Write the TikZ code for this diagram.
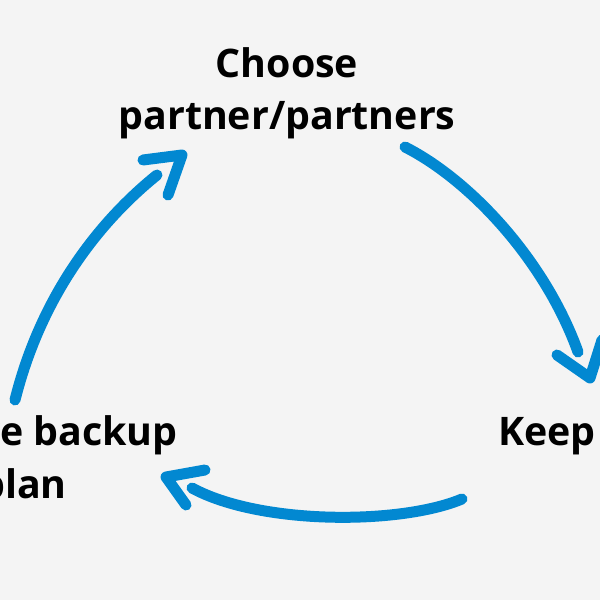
\documentclass[tikz,border=0pt]{standalone}
\usepackage{fontspec}
\setmainfont{Open Sans}
\usetikzlibrary{positioning}
\definecolor{cycleblue}{HTML}{0288D1}
\definecolor{bggray}{HTML}{F4F4F4}
\tikzset{
  steptext/.style={font=\fontsize{39.5}{53}\selectfont\bfseries, align=center, inner sep=0pt},
  cyclearrow/.style={draw=cycleblue, line width=11bp, line cap=round, line join=round},
}

\begin{document}
\begin{tikzpicture}[x=1bp, y=-1bp]
		%%%%% BACKGROUND %%%%%
		\fill[bggray] (0,0) rectangle (600,600);
		\useasboundingbox (0,0) rectangle (600,600);
		\clip (0,0) rectangle (600,600);
		
		%%%%% STEPS %%%%%
		\node[steptext, anchor=base] (choose) at (287,130) {Choose\\partner/partners};
		\node[steptext, anchor=base west] (keep) at (498,445) {Keep};
		\node[steptext, anchor=base] (backup) at (23.5,498) {Prepare backup\\plan};
		
		%%%%% ARC ENDS %%%%%
		\coordinate (leftstart) at (15,400);
		\coordinate (leftend) at (157,175);
		\coordinate (rightstart) at (405,147);
		\coordinate (rightend) at (578,352);
		\coordinate (bottomstart) at (462,499);
		\coordinate (bottomend) at (192,488);
		
		%%%%% ARCS %%%%%
		\draw[cyclearrow] (leftstart) .. controls (40,300) and (95,225) .. (leftend);
		\draw[cyclearrow] (rightstart) .. controls (470,180) and (545,260) .. (rightend);
		\draw[cyclearrow] (bottomstart) .. controls (400,525) and (260,525) .. (bottomend);
		
		%%%%% HEADS %%%%%
		\draw[cyclearrow] (143,160) -- (182,155) -- (168,195);
		\draw[cyclearrow] (557,355) -- (590,378) -- (602,340);
		\draw[cyclearrow] (205,470) -- (166,477) -- (186,505);
		
		%%%%% END %%%%%
	\end{tikzpicture}
\end{document}
